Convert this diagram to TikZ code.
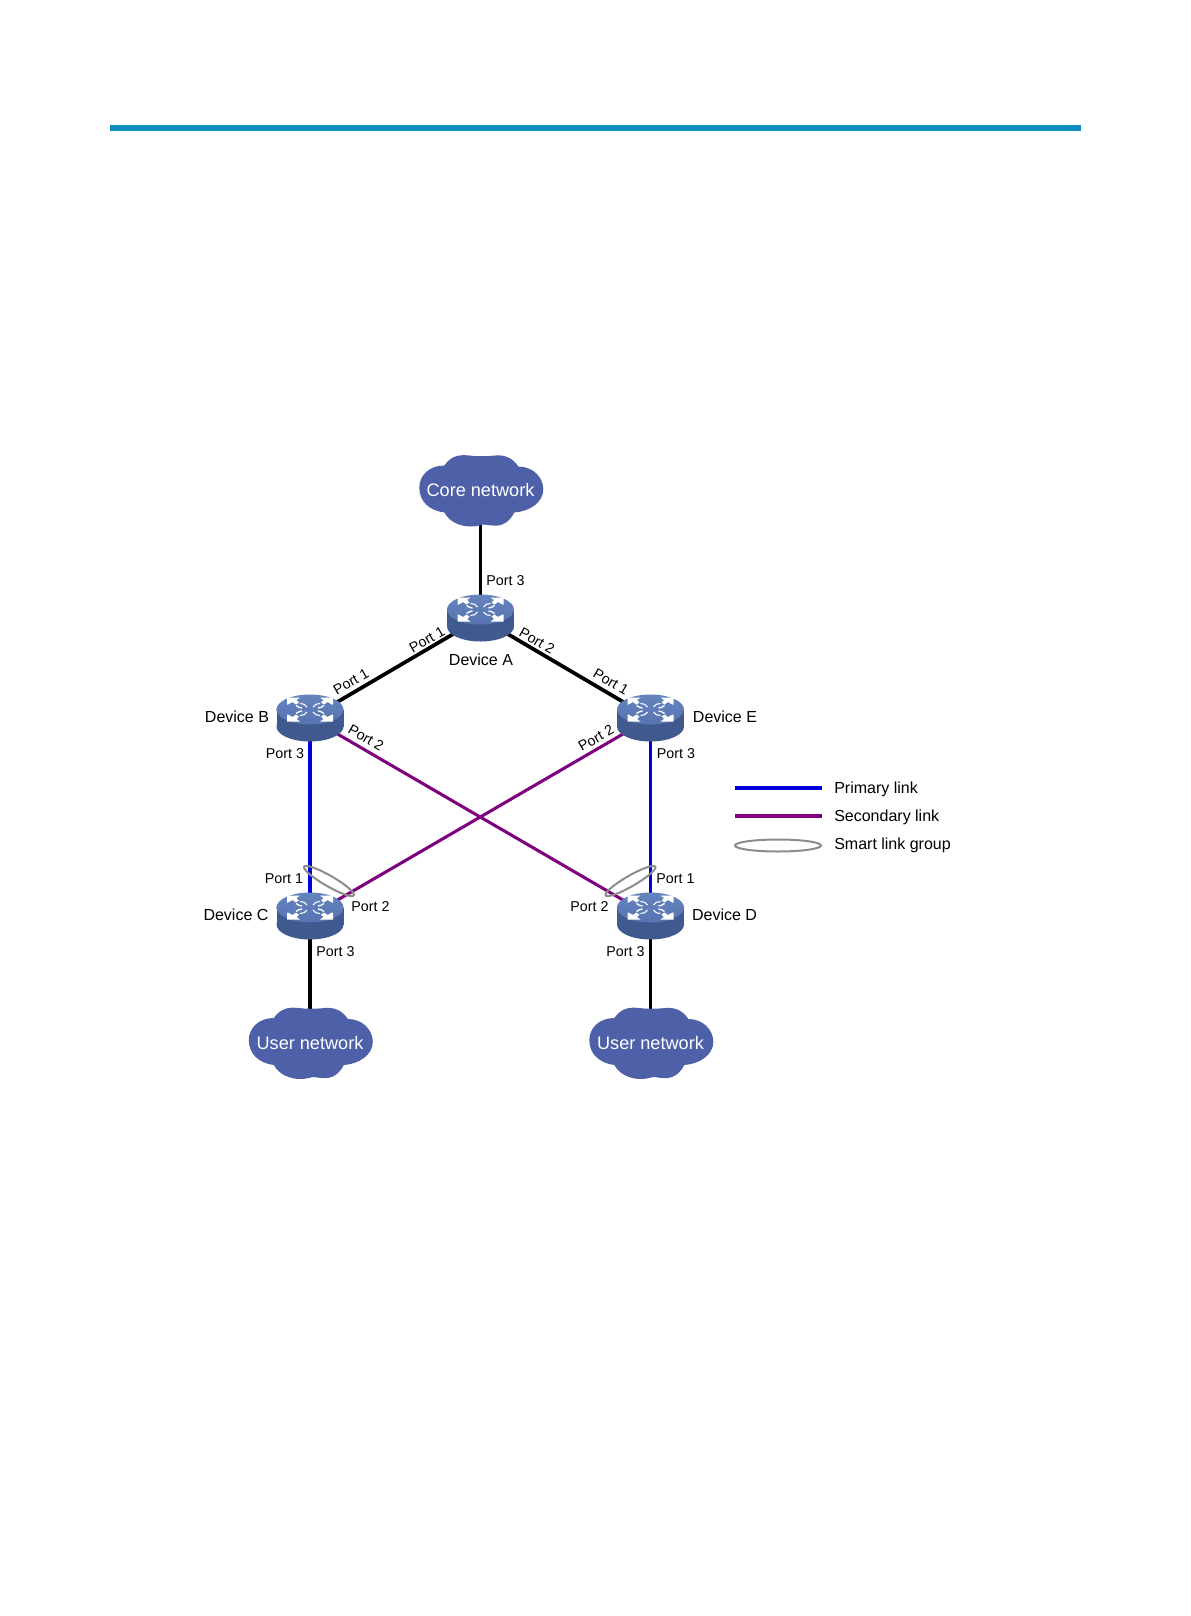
\documentclass[tikz,border=0pt]{standalone}
\usepackage{fontspec}
\setmainfont{Liberation Sans}
\usetikzlibrary{shapes.geometric,backgrounds}

\definecolor{barblue}{HTML}{0A8FC0}
\definecolor{cloudblue}{HTML}{4E60A8}
\definecolor{switchtop}{HTML}{6484BE}
\definecolor{switchlow}{HTML}{5874B0}
\definecolor{switchside}{HTML}{40598F}
\definecolor{primarylink}{HTML}{0000DC}
\definecolor{secondarylink}{HTML}{7F007F}
\definecolor{groupgray}{HTML}{8C8C8C}

\tikzset{
	device/.style={rectangle,inner sep=0pt,minimum width=51pt,minimum height=35.25pt},
	cloudnet/.style={rectangle,inner sep=0pt,minimum width=93pt,minimum height=54pt,text=white,
		font=\fontsize{13.6}{15}\selectfont},
	trunk/.style={draw=black,line width=2.8pt},
	primary/.style={draw=primarylink,line width=2.3pt},
	secondary/.style={draw=secondarylink,line width=2.3pt},
	linkgroup/.style={ellipse,draw=groupgray,line width=1.5pt,inner sep=0pt},
	portlabel/.style={inner sep=0pt,font=\fontsize{10.7}{12}\selectfont},
	devlabel/.style={inner sep=0pt,font=\fontsize{12}{14}\selectfont},
	legendlabel/.style={inner sep=0pt,anchor=west,font=\fontsize{12}{14}\selectfont}
}

% switch icon with its node: name, x, y
\newcommand{\switchnode}[3]{
	\begin{scope}[shift={(#2,#3)}]
		% body
		\fill[switchside] (0,8.5) ellipse [x radius=33.5,y radius=15];
		\fill[switchside] (-33.5,-8.5) rectangle (33.5,8.5);
		% top face
		\shade[top color=switchtop,bottom color=switchlow] (0,-8.5) ellipse [x radius=33.5,y radius=15];
		% arrows
		\foreach \xsign/\ysign in {-1/-1,1/-1,-1/1,1/1}{
			\begin{scope}[shift={(\xsign*23,-8.5+\ysign*12)},xscale=\xsign,yscale=\ysign]
				\fill[white] (0,0) -- (-13,0) -- (-9.5,-2.5) -- (-12,-5) -- (-9,-7) -- (-5.5,-4.5) -- (-1,-7) -- (0,-7) -- cycle;
				\draw[white,line width=1pt] (-9,-8) .. controls (-11,-9.5) and (-13,-10.5) .. (-15,-10.5);
				\draw[white,line width=0.8pt] (-13,-6) .. controls (-16,-6) and (-19,-7) .. (-20,-9.5);
			\end{scope}
		}
	\end{scope}
	\node[device] (#1) at (#2,#3) {};
}

% cloud with its node: name, x, y, text
\newcommand{\cloudnode}[4]{
	\fill[cloudblue,shift={(#2+0.8,#3)}] (-37,-25)
		.. controls (-30,-35) and (-22,-36) .. (-12,-35)
		.. controls (-4,-34) and (4,-34) .. (14,-35)
		.. controls (24,-36) and (32,-32) .. (37,-24)
		.. controls (52,-24) and (62,-13) .. (62,-1)
		.. controls (62,12) and (48,21) .. (33,22)
		.. controls (28,32) and (20,36) .. (12,35)
		.. controls (8,35) and (5,34) .. (2,34)
		.. controls (-2,35) and (-6,36) .. (-10,36)
		.. controls (-22,36) and (-32,31) .. (-37,22)
		.. controls (-52,20) and (-62,11) .. (-62,-3)
		.. controls (-62,-15) and (-52,-25) .. (-37,-25) -- cycle;
	\node[cloudnet] (#1) at (#2,#3) {#4};
}

\begin{document}
\begin{tikzpicture}[x=0.75pt,y=-0.75pt]

	\pgfmathsetmacro{\leftx}{310}
	\pgfmathsetmacro{\midx}{480.5}
	\pgfmathsetmacro{\rightx}{650.5}
	\pgfmathsetmacro{\upy}{718}
	\pgfmathsetmacro{\lowy}{916}
	\pgfmathsetmacro{\usery}{1043}

	\useasboundingbox (0,0) rectangle (1190,1616);

	% top bar
	\fill[barblue] (109.5,125) rectangle (1081,131);

	% clouds
	\cloudnode{corenet}{\midx}{490.5}{Core network}
	\cloudnode{userc}{\leftx}{\usery}{User network}
	\cloudnode{userd}{\rightx}{\usery}{User network}

	% devices
	\switchnode{deva}{\midx}{618}
	\switchnode{devb}{\leftx}{\upy}
	\switchnode{deve}{\rightx}{\upy}
	\switchnode{devc}{\leftx}{\lowy}
	\switchnode{devd}{\rightx}{\lowy}

	% links
	\begin{scope}[on background layer]
		\draw[trunk] (corenet.center) -- (deva.center);
		\draw[trunk] (deva.center) -- (devb.center);
		\draw[trunk] (deva.center) -- (deve.center);
		\draw[trunk] (devc.center) -- (userc.center);
		\draw[trunk] (devd.center) -- (userd.center);
		\draw[primary] (devb.center) -- (devc.center);
		\draw[primary] (deve.center) -- (devd.center);
		\draw[secondary] (devb.center) -- (devd.center);
		\draw[secondary] (deve.center) -- (devc.center);
	\end{scope}

	% smart link groups
	\node[linkgroup,minimum width=43pt,minimum height=8pt,rotate=-30] (groupc) at (329,881) {};
	\node[linkgroup,minimum width=43pt,minimum height=8pt,rotate=30] (groupd) at (630.5,881) {};

	% device names
	\node[devlabel] (namea) at (481,660) {Device A};
	\node[devlabel] (nameb) at (237,717) {Device B};
	\node[devlabel] (namee) at (725,717) {Device E};
	\node[devlabel] (namec) at (236,915) {Device C};
	\node[devlabel] (named) at (724.5,915) {Device D};

	% ports
	\node[portlabel] (porta3) at (505.5,581) {Port 3};
	\node[portlabel,rotate=30] (porta1) at (427,640) {Port 1};
	\node[portlabel,rotate=-30] (porta2) at (537,641) {Port 2};
	\node[portlabel,rotate=30] (portb1) at (351,682) {Port 1};
	\node[portlabel,rotate=-30] (portb2) at (366,738) {Port 2};
	\node[portlabel] (portb3) at (285,754) {Port 3};
	\node[portlabel,rotate=-30] (porte1) at (611,682) {Port 1};
	\node[portlabel,rotate=30] (porte2) at (596,738) {Port 2};
	\node[portlabel] (porte3) at (676,754) {Port 3};
	\node[portlabel] (portc1) at (284,879) {Port 1};
	\node[portlabel] (portc2) at (370.5,907) {Port 2};
	\node[portlabel] (portc3) at (335.5,952) {Port 3};
	\node[portlabel] (portd1) at (675.5,879) {Port 1};
	\node[portlabel] (portd2) at (589.5,907) {Port 2};
	\node[portlabel] (portd3) at (625.5,952) {Port 3};

	% legend
	\coordinate (primaryl) at (735,788);
	\coordinate (primaryr) at (822,788);
	\coordinate (secondl) at (735,816);
	\coordinate (secondr) at (822,816);
	\draw[primary] (primaryl) -- (primaryr);
	\draw[secondary] (secondl) -- (secondr);
	\node[linkgroup,minimum width=64.5pt,minimum height=9pt] (groupkey) at (778,845.5) {};
	\node[legendlabel] (primarytext) at (834,789) {Primary link};
	\node[legendlabel] (secondtext) at (834,817) {Secondary link};
	\node[legendlabel] (grouptext) at (834,845) {Smart link group};

\end{tikzpicture}
\end{document}
